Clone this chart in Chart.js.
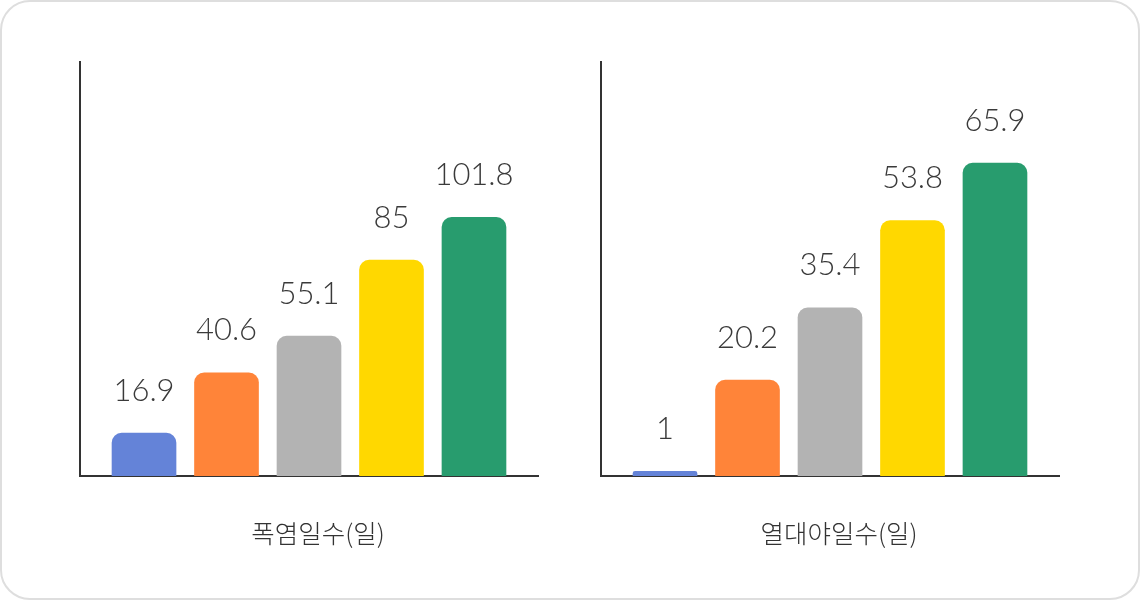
<!DOCTYPE html>
<html>
<head>
<meta charset="utf-8">
<script src="https://cdn.jsdelivr.net/npm/chart.js@4.4.1/dist/chart.umd.min.js"></script>
<style>
  html, body { margin: 0; padding: 0; background: #fff; }
  .card {
    position: absolute; left: 0; top: 0;
    width: 1140px; height: 600px;
    box-sizing: border-box;
    border: 2px solid #dedede;
    border-radius: 30px;
    background: #fff;
  }
  .panel { position: absolute; top: 0; width: 570px; height: 600px; }
  #left { left: 0; }
  #right { left: 570px; }
</style>
</head>
<body>
<div class="card"></div>
<div class="panel" id="left"><canvas id="heat"></canvas></div>
<div class="panel" id="right"><canvas id="night"></canvas></div>
<script>
// ── DATA ────────────────────────────────────────────────
const periods      = ['1', '2', '3', '4', '5'];
const heatDays     = [16.9, 40.6, 55.1, 85, 101.8];
const tropicNights = [1, 20.2, 35.4, 53.8, 65.9];
const barColors    = ['#6483d8', '#ff8439', '#b3b3b3', '#ffd800', '#289c6e'];
const heatTitle    = '폭염일수(일)';
const nightTitle   = '열대야일수(일)';

// ── HELPERS ─────────────────────────────────────────────

// draws each value above its bar
const valueLabels = {
  id: 'valueLabels',
  afterDatasetsDraw(chart) {
    const ctx = chart.ctx;
    const meta = chart.getDatasetMeta(0);
    const vals = chart.data.datasets[0].data;
    ctx.save();
    ctx.font = '300 31px Lato, "Noto Sans", sans-serif';
    ctx.fillStyle = '#3a3a3a';
    ctx.textAlign = 'center';
    ctx.textBaseline = 'bottom';
    meta.data.forEach((bar, i) => {
      ctx.fillText(String(vals[i].y), bar.x, bar.y - 27);
    });
    ctx.restore();
  }
};

// caption under the x axis (sits a bit right of the plot centre)
const caption = {
  id: 'caption',
  afterDraw(chart, args, opts) {
    const { ctx, chartArea } = chart;
    ctx.save();
    ctx.font = '300 25.5px "Noto Sans CJK KR", sans-serif';
    ctx.fillStyle = '#333';
    ctx.textAlign = 'center';
    ctx.textBaseline = 'middle';
    ctx.fillText(opts.text, (chartArea.left + chartArea.right) / 2 + 9, chartArea.bottom + 57);
    ctx.restore();
  }
};

function makeChart(id, values, title, yMax, pad) {
  return new Chart(document.getElementById(id), {
    type: 'bar',
    data: {
      datasets: [{
        data: values.map((v, i) => ({ x: i, y: v })),
        backgroundColor: barColors,
        borderRadius: 10,
        borderSkipped: 'start',
        barThickness: 64,
      }]
    },
    options: {
      responsive: true,
      maintainAspectRatio: false,
      animation: false,
      layout: { padding: pad },
      scales: {
        x: {
          type: 'linear',
          offset: false,
          min: -0.776,
          max: 4.776,
          grid: { display: false },
          ticks: { display: false },
          border: { display: true, color: '#333', width: 2 },
        },
        y: {
          min: 0,
          max: yMax,
          grid: { display: false },
          ticks: { display: false },
          border: { display: true, color: '#333', width: 2 },
        }
      },
      plugins: {
        legend: { display: false },
        tooltip: { enabled: false },
        caption: { text: title },
      }
    },
    plugins: [valueLabels, caption]
  });
}

makeChart('heat', heatDays, heatTitle, 163, { left: 72, right: 32, top: 62, bottom: 116 });
makeChart('night', tropicNights, nightTitle, 87.2, { left: 23, right: 81, top: 62, bottom: 116 });
</script>
</body>
</html>
